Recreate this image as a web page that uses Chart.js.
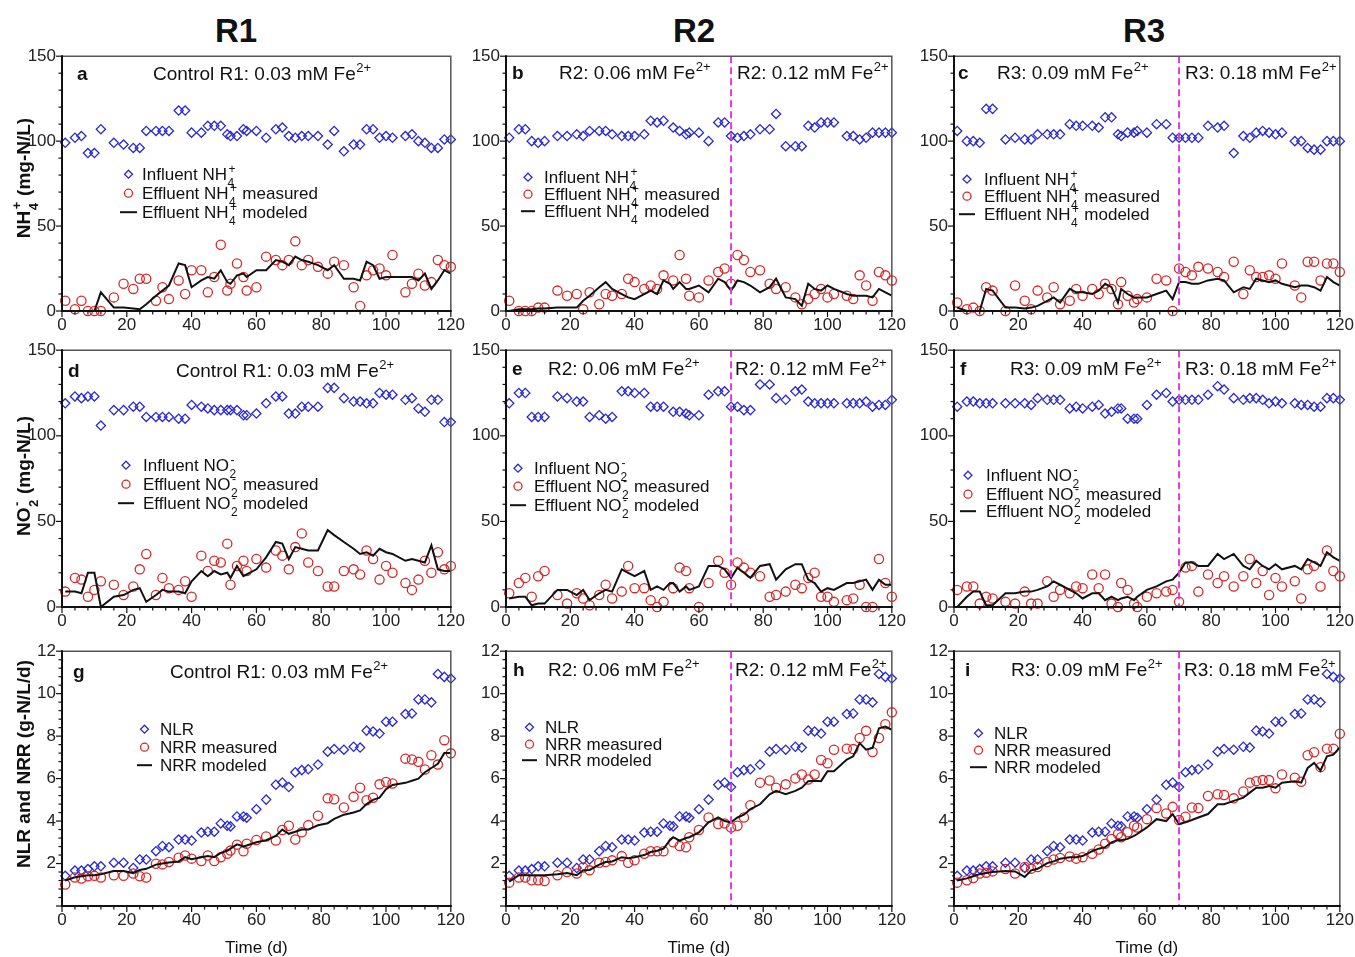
<!DOCTYPE html>
<html>
<head>
<meta charset="utf-8">
<script src="https://cdn.jsdelivr.net/npm/chart.js@4.4.1/dist/chart.umd.min.js"></script>
<style>
  html, body { margin: 0; padding: 0; background: #fff; }
  #fig { position: relative; width: 1355px; height: 957px; overflow: hidden; background: #fff;
         font-family: "Liberation Sans", Arial, sans-serif; }
  #fig canvas { position: absolute; }
  .head { position: absolute; top: 14px; font-weight: bold; font-size: 33px; line-height: 33px;
          transform: translateX(-50%); color: #111; }
</style>
</head>
<body>
<div id="fig">
  <div class="head" style="left:236px">R1</div>
  <div class="head" style="left:694px">R2</div>
  <div class="head" style="left:1144px">R3</div>
</div>
<script>
const FONT = '"Liberation Sans", Arial, sans-serif';
const BLUE = '#2a2ad0', RED = '#d62828', INK = '#111', MAGENTA = '#e03ce0';

// sampling days (shared by all panels)
const days = [1,4,6,8,10,12,16,19,22,24,26,29,31,33,36,38,40,43,45,47,49,51,52,54,56,57,60,63,66,68,70,72,74,76,79,82,84,87,90,92,94,96,98,100,102,106,108,110,112,114,116,118,120];
const switchDay = 70;

// NH4+ (a, b, c)
const infA = [99,102,103,93,93,107,99,98,96,96,106,106,106,106,118,118,105,105,109,109,109,104,103,103,107,106,106,102,107,108,103,102,103,103,103,98,106,94,98,98,107,107,102,103,102,103,104,100,99,96,96,101,101];
const measA = [6,1,6,0,0,0,8,16,13,19,19,6,14,7,18,10,24,24,11,20,39,12,16,28,20,12,14,32,30,27,30,41,27,30,26,22,29,27,14,3,21,24,25,21,33,11,16,22,15,17,30,27,26];
const modA = [0,0,0,0,0,11,2,2,1.5,1,4,9,12,15,28,27,14,18,20,19,24,17,16,21,22,20,24,24,30,29,27,32,30,29,27,24,27,19,19,18,29,27,19,20,20,20,20,18,22,13,18,24,22];

const infB = [102,107,107,100,99,100,103,103,104,103,106,106,106,104,103,103,103,104,112,111,112,null,108,106,104,105,105,100,111,111,103,102,103,104,107,107,116,97,97,97,109,108,111,111,111,103,103,101,102,105,105,105,105];
const measB = [6,0,0,0,2,2,12,9,10,1,11,4,10,9,10,19,17,13,15,13,21,null,18,33,19,9,8,18,23,25,16,33,30,23,24,16,13,14,8,4,7,10,13,8,10,9,7,21,15,6,23,21,18];
const modB = [0,1,1,1,1.5,1.5,2,2,2,6,9,14,17,13,10,8,7,10,12,10,18,16,13,17,13,13,15,11,19,17,12,18,17,15,11,14,19,8,7,3,16,13,12,15,13,10,9,9,9,8,13,11,9];

const infC = [106,100,100,99,119,119,101,102,101,101,104,104,104,104,110,109,109,109,108,114,114,104,103,105,105,106,105,110,110,102,102,102,102,102,109,108,109,93,103,102,105,106,105,104,105,100,100,96,95,95,100,100,100];
const measC = [5,1,2,0,14,12,0,15,6,1,12,8,14,4,6,13,9,13,10,16,13,4,17,9,5,7,8,19,18,0,25,23,21,26,25,23,20,29,10,24,20,20,21,19,28,15,8,29,29,18,28,28,23];
const modC = [2,0,0,0,13,12,2,2,1.5,2,3,6,8,5,13,11,11,10,12,16,14,5,13,10,8,8,8,10,12,7,17,17,16,16,18,19,18,11,14,13,19,18,17,18,16,14,15,15,14,12,20,17,15];

// NO2- (d, e, f)
const infD = [119,123,122,123,123,106,115,115,117,117,111,111,111,111,110,110,118,117,116,115,115,115,115,115,112,112,113,119,123,123,113,113,117,117,117,128,128,122,120,120,119,119,125,124,124,121,122,116,114,121,121,108,108];
const measD = [9,17,16,6,10,15,13,7,12,22,31,7,17,11,10,15,6,30,21,27,26,37,13,24,27,21,28,23,33,30,22,35,43,26,21,12,12,21,22,19,33,28,16,24,20,14,10,16,27,20,32,22,24];
const modD = [9,9,8,20,20,0,6,7,10,11,3,7,10,9,9,8,15,21,18,21,19,20,17,24,18,19,22,29,38,37,28,35,34,33,33,45,42,38,34,31,32,30,34,32,31,27,28,27,26,36,22,21,21];

const infE = [119,125,125,111,111,111,123,122,120,120,111,112,110,111,126,126,125,125,117,117,117,null,114,114,113,112,112,124,126,126,117,117,115,115,130,130,122,121,126,127,120,119,119,119,119,119,119,119,120,117,118,118,121];
const measE = [8,14,17,6,18,21,7,2,8,5,1,7,13,5,9,24,11,11,4,0,3,null,11,23,21,11,0,14,27,20,13,26,23,20,18,6,7,9,13,11,17,20,6,6,3,4,5,13,0,0,28,14,6];
const modE = [5,6,6,1,2,2,10,10,7,10,4,8,10,9,22,20,18,21,10,12,10,14,14,9,12,10,12,24,24,22,17,23,20,17,24,25,16,22,25,25,16,14,9,11,10,14,14,15,16,10,16,13,13];

const infF = [117,120,120,119,119,119,119,119,119,118,122,121,121,121,116,117,116,117,118,113,114,116,116,110,110,110,118,124,125,120,121,121,121,121,124,129,127,122,121,122,122,121,119,120,119,119,118,118,117,117,122,122,121];
const measF = [10,12,12,2,6,5,3,2,9,2,2,15,6,10,8,12,11,19,11,19,2,0,14,10,2,0,6,8,9,10,3,23,24,9,19,14,18,12,18,28,14,21,7,17,12,15,5,22,24,12,33,21,18];
const modF = [0,6,9,9,1,1,8,8,9,9,10,12,15,13,10,8,5,8,8,4,6,4,5,6,4,6,10,12,15,16,20,26,26,24,24,31,28,31,24,22,27,24,22,25,22,24,22,28,26,24,32,29,27];

// NLR / NRR (g, h, i)
const nlr = [1.42,1.67,1.67,1.74,1.87,1.87,2.04,2.04,1.79,2.19,2.19,2.58,2.83,2.77,3.13,3.13,3.08,3.46,3.5,3.5,3.89,3.78,3.75,4.22,4.22,4.16,4.56,5.01,5.71,5.82,5.6,6.3,6.4,6.44,6.66,7.27,7.39,7.36,7.5,7.46,8.26,8.22,8.12,8.68,8.68,9.04,9.07,9.73,9.73,9.59,10.93,10.79,10.71];
const nrrG = [1.01,1.34,1.29,1.4,1.42,1.34,1.45,1.42,1.53,1.4,1.34,1.99,1.96,2.07,2.27,2.38,2.23,2.12,2.38,2.12,2.3,2.46,2.61,2.89,2.58,2.93,3.11,3.27,3.08,3.58,3.78,3.13,3.47,3.81,4.25,5.07,5.03,4.64,5.14,5.57,4.98,5.1,5.73,5.84,5.77,6.94,6.9,6.79,6.43,7.1,6.66,7.81,7.19];
const modG = [1.2,1.35,1.4,1.45,1.45,1.5,1.65,1.65,1.55,1.7,1.75,1.95,2.0,2.05,2.1,2.3,2.2,2.3,2.35,2.3,2.5,2.6,2.7,2.9,2.8,2.85,3.0,3.1,3.3,3.6,3.4,3.5,3.6,3.6,3.8,3.9,4.1,4.3,4.4,4.5,4.8,5.0,5.1,5.5,5.7,5.8,5.9,6.0,6.3,6.5,6.7,7.2,7.2];
const nrrH = [1.1,1.34,1.34,1.21,1.21,1.18,1.45,1.6,1.53,1.81,1.68,2.04,2.07,2.15,2.35,2.04,2.15,2.46,2.58,2.58,2.58,null,3.0,2.82,2.77,3.24,3.58,4.17,3.86,3.89,3.7,3.78,4.17,4.75,5.81,5.91,5.57,5.73,6.01,6.19,5.96,6.19,6.88,6.72,7.36,7.41,7.39,7.91,8.25,7.25,7.91,8.56,9.12];
const modH = [1.15,1.45,1.45,1.45,1.45,1.45,1.5,1.55,1.45,1.68,1.7,1.95,2.07,2.1,2.3,2.25,2.3,2.4,2.54,2.6,2.7,3.1,3.24,3.08,3.2,3.24,3.47,3.94,4.17,4.0,3.94,4.17,4.3,4.56,4.79,5.26,5.42,5.26,5.42,5.57,5.88,5.9,5.88,6.35,6.35,6.9,7.05,7.67,7.36,7.44,8.37,8.45,8.3];
const nrrI = [1.1,1.21,1.32,1.53,1.57,1.63,1.74,1.53,1.84,1.76,1.84,2.07,2.19,2.26,2.33,2.23,2.3,2.46,2.66,2.93,3.16,3.39,3.24,3.47,3.78,3.7,4.09,4.61,4.36,4.67,4.05,4.2,4.64,4.61,5.18,5.26,5.23,5.07,5.39,5.81,5.88,5.93,5.93,5.54,6.19,6.04,5.85,7.1,7.24,6.54,7.41,7.41,8.11];
const modI = [1.2,1.3,1.4,1.5,1.55,1.6,1.65,1.63,1.37,1.68,1.75,2.02,2.1,2.23,2.3,2.3,2.35,2.58,2.7,2.77,3.0,3.11,3.1,3.16,3.3,3.39,3.7,4.09,4.0,4.33,3.86,3.94,4.05,4.17,4.33,4.79,4.79,4.95,5.1,5.34,5.57,5.57,5.65,5.57,5.81,5.88,5.81,6.5,6.74,6.38,7.05,7.13,7.47];

// text pieces
const SUP2 = { sup: '2+' };
const txtR1 = ['Control R1: 0.03 mM Fe', SUP2];
const txtR2a = ['R2: 0.06 mM Fe', SUP2], txtR2b = ['R2: 0.12 mM Fe', SUP2];
const txtR3a = ['R3: 0.09 mM Fe', SUP2], txtR3b = ['R3: 0.18 mM Fe', SUP2];
const NH4 = { sub: '4', sup: '+' }, NO2 = { sub: '2', sup: '-' };

// layout of the grid
const COLS = [{ l: 62, r: 451 }, { l: 506, r: 892 }, { l: 954, r: 1340 }];
const ROWS = [
  { t: 54, b: 311, max: 150, step: 50, minor: 10, xh: 36, titleY: 178,
    title: ['NH', NH4, ' (mg-N/L)'],
    legend: [['Influent NH', NH4], ['Effluent NH', NH4, ' measured'], ['Effluent NH', NH4, ' modeled']] },
  { t: 348, b: 607, max: 150, step: 50, minor: 10, xh: 36, titleY: 476,
    title: ['NO', NO2, ' (mg-N/L)'],
    legend: [['Influent NO', NO2], ['Effluent NO', NO2, ' measured'], ['Effluent NO', NO2, ' modeled']] },
  { t: 649, b: 906, max: 12, step: 2, minor: 0.4, xh: 54, titleY: 764,
    title: ['NLR and NRR (g-N/L/d)'],
    legend: [['NLR'], ['NRR measured'], ['NRR modeled']] }
];
const PAD_T = 14, PAD_R = 18, YW = 62;

// leg: [line x0, line x1, text x, row1 y, row2 y, row3 y] relative to plot corner
const PANELS = [
  { row: 0, col: 0, tag: 'a', tagDx: 15, txtDy: 24, texts: [[91, txtR1]], split: false, leg: [58, 75, 80, 118, 137, 156], inf: infA, meas: measA, model: modA },
  { row: 0, col: 1, tag: 'b', tagDx: 6, txtDy: 23, texts: [[53, txtR2a], [231, txtR2b]], split: true, leg: [15, 29, 38, 121, 138, 155], inf: infB, meas: measB, model: modB },
  { row: 0, col: 2, tag: 'c', tagDx: 4, txtDy: 23, texts: [[43, txtR3a], [231, txtR3b]], split: true, leg: [5, 21, 30, 123, 140, 158], inf: infC, meas: measC, model: modC },
  { row: 1, col: 0, tag: 'd', tagDx: 6, txtDy: 27, texts: [[114, txtR1]], split: false, leg: [56, 72, 81, 115, 134, 153], inf: infD, meas: measD, model: modD },
  { row: 1, col: 1, tag: 'e', tagDx: 6, txtDy: 25, texts: [[42, txtR2a], [229, txtR2b]], split: true, leg: [4, 20, 28, 118, 136, 155], inf: infE, meas: measE, model: modE },
  { row: 1, col: 2, tag: 'f', tagDx: 6, txtDy: 25, texts: [[56, txtR3a], [231, txtR3b]], split: true, leg: [6, 22, 32, 125, 144, 161], inf: infF, meas: measF, model: modF },
  { row: 2, col: 0, tag: 'g', tagDx: 11, txtDy: 27, texts: [[108, txtR1]], split: false, leg: [75, 90, 98, 78, 96, 114], inf: nlr, meas: nrrG, model: modG },
  { row: 2, col: 1, tag: 'h', tagDx: 7, txtDy: 25, texts: [[42, txtR2a], [229, txtR2b]], split: true, leg: [16, 31, 39, 76, 93, 109], inf: nlr, meas: nrrH, model: modH },
  { row: 2, col: 2, tag: 'i', tagDx: 11, txtDy: 25, texts: [[57, txtR3a], [230, txtR3b]], split: true, leg: [16, 33, 40, 82, 99, 116], inf: nlr, meas: nrrI, model: modI }
];

// draws text with stacked sub/superscripts, returns width
function drawRich(ctx, parts, x, y, size, weight, draw = true) {
  let cx = x;
  for (const part of parts) {
    if (typeof part === 'string') {
      ctx.font = `${weight} ${size}px ${FONT}`;
      if (draw) ctx.fillText(part, cx, y);
      cx += ctx.measureText(part).width;
    } else {
      const s = Math.round(size * 0.68);
      ctx.font = `${weight} ${s}px ${FONT}`;
      let w = 0;
      if (part.sub) {
        if (draw) ctx.fillText(part.sub, cx + 0.5, y + size * 0.4);
        w = Math.max(w, ctx.measureText(part.sub).width + 0.5);
      }
      if (part.sup) {
        const off = part.sub ? 1.5 : 0.5;
        if (draw) ctx.fillText(part.sup, cx + off, y - size * 0.45);
        w = Math.max(w, ctx.measureText(part.sup).width + off);
      }
      cx += w + 0.5;
    }
  }
  return cx - x;
}

const panelOf = new Map();

const deco = {
  id: 'deco',
  afterDatasetsDraw(chart) {
    const p = panelOf.get(chart.canvas);
    const r = ROWS[p.row];
    const { ctx, chartArea: a } = chart;
    const x = chart.scales.x, y = chart.scales.y;
    ctx.save();
    ctx.textBaseline = 'alphabetic';
    ctx.textAlign = 'left';

    // phase switch
    if (p.split) {
      const px = x.getPixelForValue(switchDay);
      ctx.strokeStyle = MAGENTA; ctx.lineWidth = 2; ctx.setLineDash([7, 4]);
      ctx.beginPath(); ctx.moveTo(px, a.top); ctx.lineTo(px, a.bottom); ctx.stroke();
      ctx.setLineDash([]);
    }

    // frame
    ctx.strokeStyle = '#555'; ctx.lineWidth = 1.5;
    ctx.beginPath(); ctx.moveTo(a.left, a.top); ctx.lineTo(a.right, a.top); ctx.lineTo(a.right, a.bottom); ctx.stroke();
    ctx.strokeStyle = INK; ctx.lineWidth = 2;
    ctx.beginPath(); ctx.moveTo(a.left, a.top - 1); ctx.lineTo(a.left, a.bottom); ctx.lineTo(a.right + 1, a.bottom); ctx.stroke();

    // tick marks
    ctx.lineWidth = 1.2;
    for (let v = 0; v <= 120; v += 4) {
      const px = x.getPixelForValue(v), len = v % 20 === 0 ? 6 : 3.5;
      ctx.beginPath(); ctx.moveTo(px, a.bottom); ctx.lineTo(px, a.bottom + len); ctx.stroke();
    }
    const n = Math.round(r.max / r.minor);
    for (let k = 0; k <= n; k++) {
      const v = k * r.minor, py = y.getPixelForValue(v);
      const q = v / r.step, len = Math.abs(q - Math.round(q)) < 1e-6 ? 6 : 3.5;
      ctx.beginPath(); ctx.moveTo(a.left, py); ctx.lineTo(a.left - len, py); ctx.stroke();
    }

    // panel letter and condition texts
    ctx.fillStyle = INK;
    ctx.font = `bold 19px ${FONT}`;
    ctx.fillText(p.tag, a.left + p.tagDx, a.top + p.txtDy);
    for (const [dx, parts] of p.texts) drawRich(ctx, parts, a.left + dx, a.top + p.txtDy, 19, 'normal');

    // legend
    const [l0, l1, tx, ...dys] = p.leg;
    const mx = a.left + (l0 + l1) / 2;
    dys.forEach((dy, i) => {
      const cy = a.top + dy;
      ctx.lineWidth = 1.3;
      if (i === 0) {
        ctx.strokeStyle = BLUE;
        ctx.beginPath(); ctx.moveTo(mx, cy - 4); ctx.lineTo(mx + 4, cy); ctx.lineTo(mx, cy + 4); ctx.lineTo(mx - 4, cy); ctx.closePath(); ctx.stroke();
      } else if (i === 1) {
        ctx.strokeStyle = RED;
        ctx.beginPath(); ctx.arc(mx, cy, 4, 0, Math.PI * 2); ctx.stroke();
      } else {
        ctx.strokeStyle = INK; ctx.lineWidth = 2;
        ctx.beginPath(); ctx.moveTo(a.left + l0, cy); ctx.lineTo(a.left + l1, cy); ctx.stroke();
      }
      ctx.fillStyle = INK;
      drawRich(ctx, r.legend[i], a.left + tx, cy + 6, 17, 'normal');
    });

    // y axis title (first column only)
    if (p.col === 0) {
      const cy = r.titleY - (r.t - PAD_T);
      ctx.save();
      ctx.translate(30, cy);
      ctx.rotate(-Math.PI / 2);
      const w = drawRich(ctx, r.title, 0, 0, 19, 'bold', false);
      drawRich(ctx, r.title, -w / 2, 0, 19, 'bold');
      ctx.restore();
    }

    // x axis title (bottom row only)
    if (p.row === 2) {
      ctx.font = `17px ${FONT}`;
      ctx.textAlign = 'center';
      ctx.fillText('Time (d)', (a.left + a.right) / 2, a.bottom + 47);
    }
    ctx.restore();
  }
};

const toPoints = vals => days.map((d, i) => ({ x: d, y: vals[i] })).filter(pt => pt.y !== null);

const fig = document.getElementById('fig');
PANELS.forEach(p => {
  const c = COLS[p.col], r = ROWS[p.row];
  const cv = document.createElement('canvas');
  const w = (c.r - c.l) + YW + PAD_R, h = PAD_T + (r.b - r.t) + r.xh;
  cv.width = w; cv.height = h;
  cv.style.left = (c.l - YW) + 'px';
  cv.style.top = (r.t - PAD_T) + 'px';
  cv.style.width = w + 'px'; cv.style.height = h + 'px';
  fig.appendChild(cv);
  panelOf.set(cv, p);

  new Chart(cv, {
    type: 'scatter',
    data: {
      datasets: [
        { data: toPoints(p.model), showLine: true, borderColor: INK, borderWidth: 2, pointRadius: 0, tension: 0, order: 0, clip: 8 },
        { data: toPoints(p.meas), pointStyle: 'circle', pointRadius: 4.6, borderColor: RED, backgroundColor: 'rgba(0,0,0,0)', borderWidth: 1.3, order: 1, clip: 8 },
        { data: toPoints(p.inf), pointStyle: 'rectRot', pointRadius: 4.6, borderColor: BLUE, backgroundColor: 'rgba(0,0,0,0)', borderWidth: 1.3, order: 2, clip: 8 }
      ]
    },
    options: {
      responsive: false,
      animation: false,
      devicePixelRatio: 1,
      layout: { padding: { top: PAD_T, right: PAD_R, left: 0, bottom: 0 } },
      plugins: { legend: { display: false }, tooltip: { enabled: false } },
      scales: {
        x: {
          type: 'linear', min: 0, max: 120,
          afterFit: s => { s.height = r.xh; },
          ticks: { stepSize: 20, padding: 4, color: '#222', font: { family: FONT, size: 17 }, maxRotation: 0, autoSkip: false },
          grid: { display: false, drawTicks: false },
          border: { display: false }
        },
        y: {
          type: 'linear', min: 0, max: r.max,
          afterFit: s => { s.width = YW; },
          ticks: {
            stepSize: r.step, padding: 6, color: '#222', font: { family: FONT, size: 17 },
            callback: v => (p.row === 2 && v === 0) ? '' : v
          },
          grid: { display: false, drawTicks: false },
          border: { display: false }
        }
      }
    },
    plugins: [deco]
  });
});
</script>
</body>
</html>
